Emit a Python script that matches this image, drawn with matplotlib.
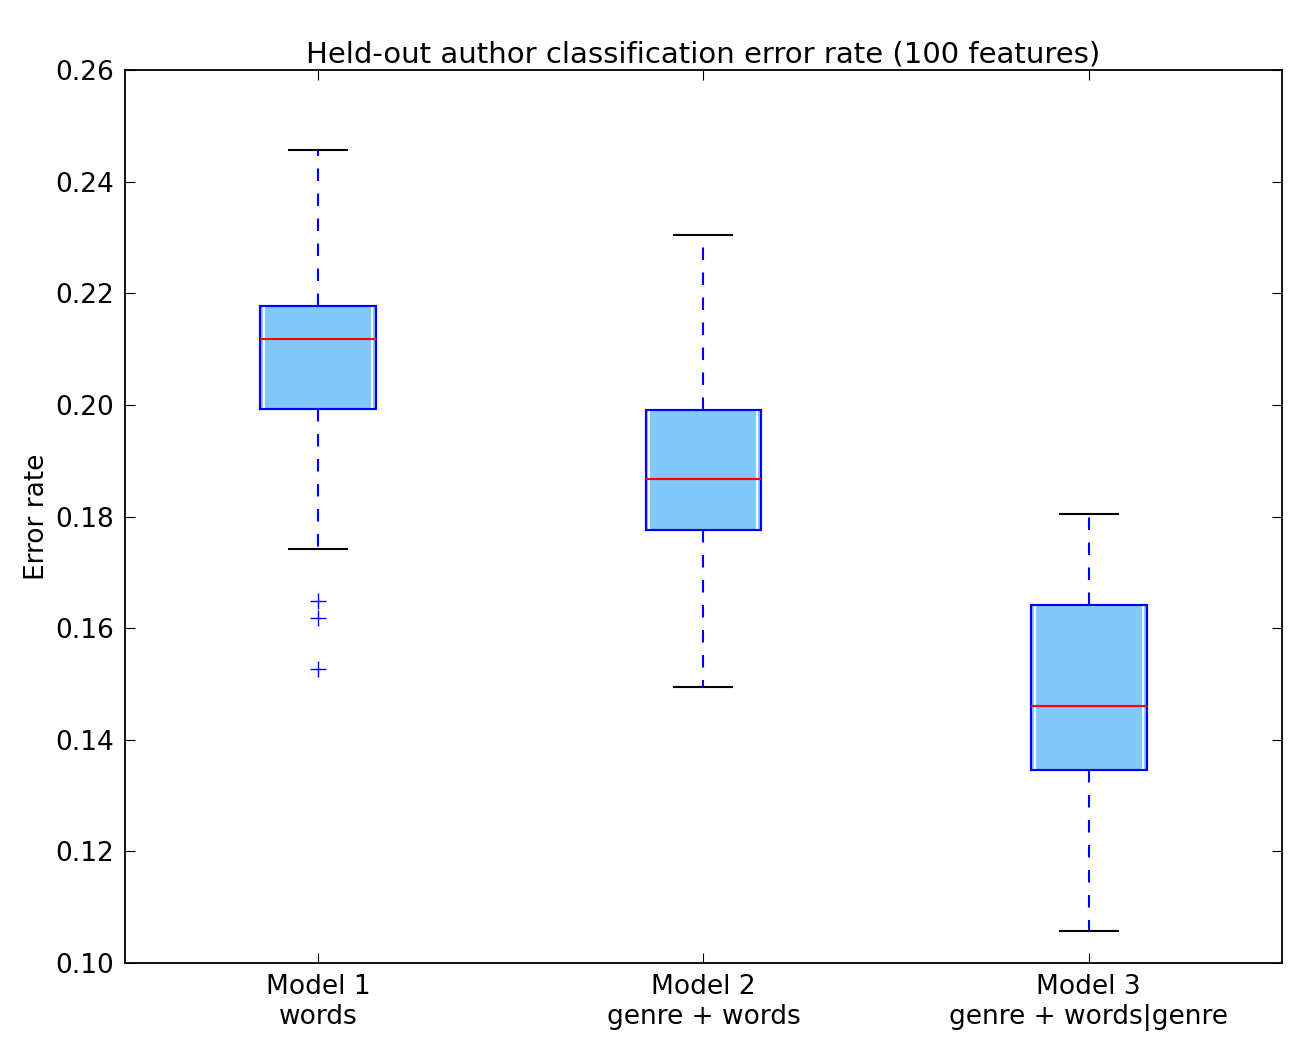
import matplotlib
matplotlib.use("Agg")
import matplotlib.pyplot as plt

labels = ["Model 1\nwords", "Model 2\ngenre + words", "Model 3\ngenre + words|genre"]
whislo = [0.1742, 0.1494, 0.1057]
q1 = [0.1993, 0.1776, 0.1346]
med = [0.2118, 0.1867, 0.1460]
q3 = [0.2177, 0.1991, 0.1641]
whishi = [0.2458, 0.2304, 0.1804]
fliers = [[0.1649, 0.1618, 0.1527], [], []]

stats = []
for i in range(3):
    stats.append(dict(label=labels[i], whislo=whislo[i], q1=q1[i], med=med[i],
                      q3=q3[i], whishi=whishi[i], fliers=fliers[i]))

fig = plt.figure(figsize=(13.05, 10.51), dpi=100)
ax = fig.add_axes([0.096, 0.084, 0.886, 0.849])

bp = ax.bxp(stats, widths=0.3, patch_artist=True,
            boxprops=dict(facecolor="#82c8fa", edgecolor="blue", linewidth=1.5),
            whiskerprops=dict(color="blue", linestyle=(0, (6, 6)), linewidth=1.5),
            capprops=dict(color="black", linewidth=1.5),
            medianprops=dict(color="red", linewidth=1.5),
            flierprops=dict(marker="+", markeredgecolor="blue", markersize=12, linestyle="none"))
# white inner outline as in the reference
ax.bxp(stats, widths=0.28, patch_artist=True, showcaps=False, showfliers=False,
       boxprops=dict(facecolor="none", edgecolor="white", linewidth=1.5),
       whiskerprops=dict(linewidth=0), medianprops=dict(linewidth=0))
ax.bxp(stats, widths=0.3, showcaps=False, showfliers=False,
       boxprops=dict(color="blue", linewidth=1.5),
       whiskerprops=dict(linewidth=0), medianprops=dict(color="red", linewidth=1.5))

ax.set_xticks([1, 2, 3])
ax.set_xticklabels(labels)
ax.set_xlim(0.5, 3.5)
ax.set_ylim(0.10, 0.26)
ax.set_yticks([0.10, 0.12, 0.14, 0.16, 0.18, 0.20, 0.22, 0.24, 0.26])
ax.set_yticklabels(["%.2f" % v for v in ax.get_yticks()])
ax.tick_params(direction="in", top=True, right=True, labelsize=19, length=7, pad=8)
ax.set_ylabel("Error rate", fontsize=19)
ax.set_title("Held-out author classification error rate (100 features)", fontsize=21)
for s in ax.spines.values():
    s.set_linewidth(1.3)

fig.savefig("out.png", dpi=100)
